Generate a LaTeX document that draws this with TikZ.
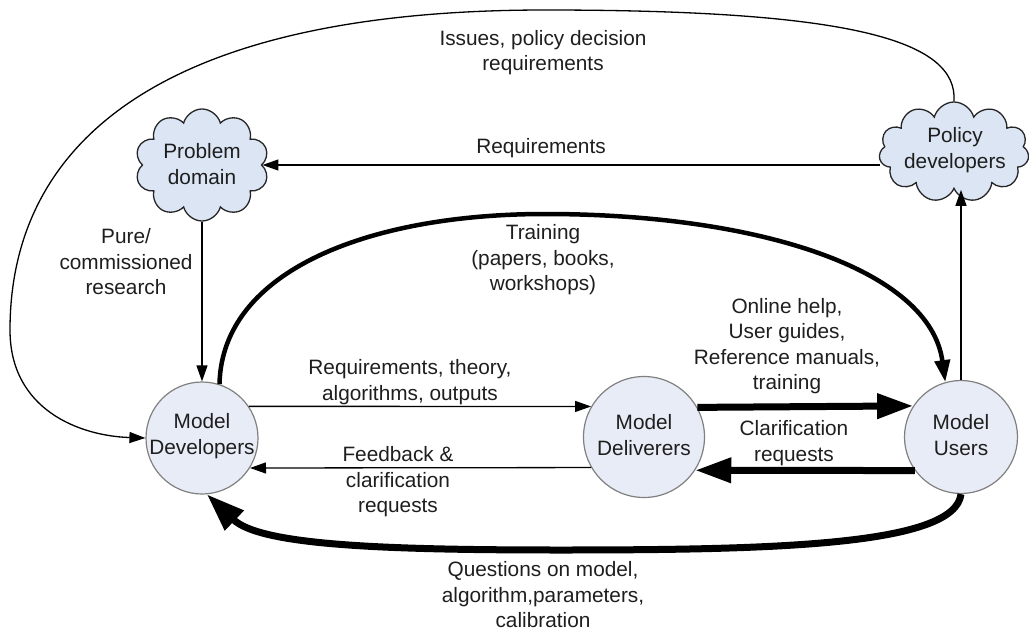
\documentclass[tikz,border=0pt]{standalone}
\usepackage{fontspec}
\setmainfont{Liberation Sans}
\usetikzlibrary{shapes.symbols,arrows.meta}
\definecolor{circfill}{RGB}{232,236,246}
\definecolor{circline}{RGB}{128,128,128}
\definecolor{cloudfill}{RGB}{219,229,243}
\definecolor{txtcol}{RGB}{30,30,30}
\begin{document}
\begin{tikzpicture}[x=1pt,y=-1pt,
  lbl/.style={align=center, font=\fontsize{20.8}{25.5}\selectfont, text=txtcol, inner sep=0pt},
  circ/.style={circle, draw=circline, fill=circfill, line width=1.2pt, minimum size=#1, inner sep=0pt},
  cloudbox/.style={cloud, cloud puffs=10, cloud ignores aspect, draw=black!85, fill=cloudfill, line width=1.3pt, inner sep=0pt},
  thinarrow/.style={line width=1.3pt, -{Triangle[length=16pt,width=11pt]}},
  thickarrow/.style={line width=7pt, -{Triangle[length=36pt,width=24pt]}},
  trainarrow/.style={line width=4.5pt, -{Triangle[length=22pt,width=15pt]}},
  plainline/.style={line width=1.3pt}
]
\path[use as bounding box] (0,0) rectangle (1029,632);

% nodes
\node[cloudbox, minimum width=134pt, minimum height=112pt] (problem) at (202,165) {};
\node[lbl] (problemt) at (202,164) {Problem\\domain};
\node[cloudbox, cloud puffs=11, minimum width=150pt, minimum height=100pt] (policy) at (954,152) {};
\node[lbl] (policyt) at (955,150) {Policy\\developers};

\node[circ=112pt] (developers) at (202,438) {};
\node[lbl] (developerst) at (202,436) {Model\\Developers};
\node[circ=121pt] (deliverers) at (644,437) {};
\node[lbl] (deliverert) at (644,435) {Model\\Deliverers};
\node[circ=113pt] (users) at (961,437) {};
\node[lbl] (userst) at (961,435) {Model\\Users};

% connectors
\draw[thinarrow] (policy.north) .. controls (958,40) and (850,10) .. (545,10)
   .. controls (150,10) and (10,150) .. (10,330)
   .. controls (10,410) and (80,436) .. (developers.west);
\draw[thinarrow] (policy.west |- problem.east) -- (problem.east);
\draw[thinarrow] (problem.south) -- (developers.north);
\draw[trainarrow] (developers.72) .. controls (222,270) and (370,214) .. (545,214)
   .. controls (760,214) and (930,270) .. (users.106);
\draw[thinarrow] (users.north) -- (users.north |- policy.south);
\draw[thinarrow] (developers.34) -- (deliverers.150.5);
\draw[thickarrow] (deliverers.29.5) -- (users.147.6);
\draw[thickarrow] (users.216) -- (deliverers.327.3);
\draw[thinarrow] (deliverers.210.6) -- (developers.-32.4);
\draw[line width=7pt, -{Triangle[length=38pt,width=26pt]}] (users.south) .. controls (955,545) and (780,550) .. (560,550)
   .. controls (380,550) and (260,545) .. (developers.-85);

% labels
\node[lbl] (issues) at (543,52.5) {Issues, policy decision\\requirements};
\node[lbl] (reqs) at (541,148) {Requirements};
\node[lbl] (pure) at (126,262) {Pure/\\commissioned\\research};
\node[lbl] (training) at (543,260) {Training\\(papers, books,\\workshops)};
\node[lbl] (theory) at (410,382) {Requirements, theory,\\algorithms, outputs};
\node[lbl] (online) at (787,346) {Online help,\\User guides,\\Reference manuals,\\training};
\node[lbl] (clar) at (794,443) {Clarification\\requests};
\node[lbl] (feedback) at (398,482) {Feedback \&\\clarification\\requests};
\node[lbl] (questions) at (543,595) {Questions on model,\\algorithm,parameters,\\calibration};
\end{tikzpicture}
\end{document}
